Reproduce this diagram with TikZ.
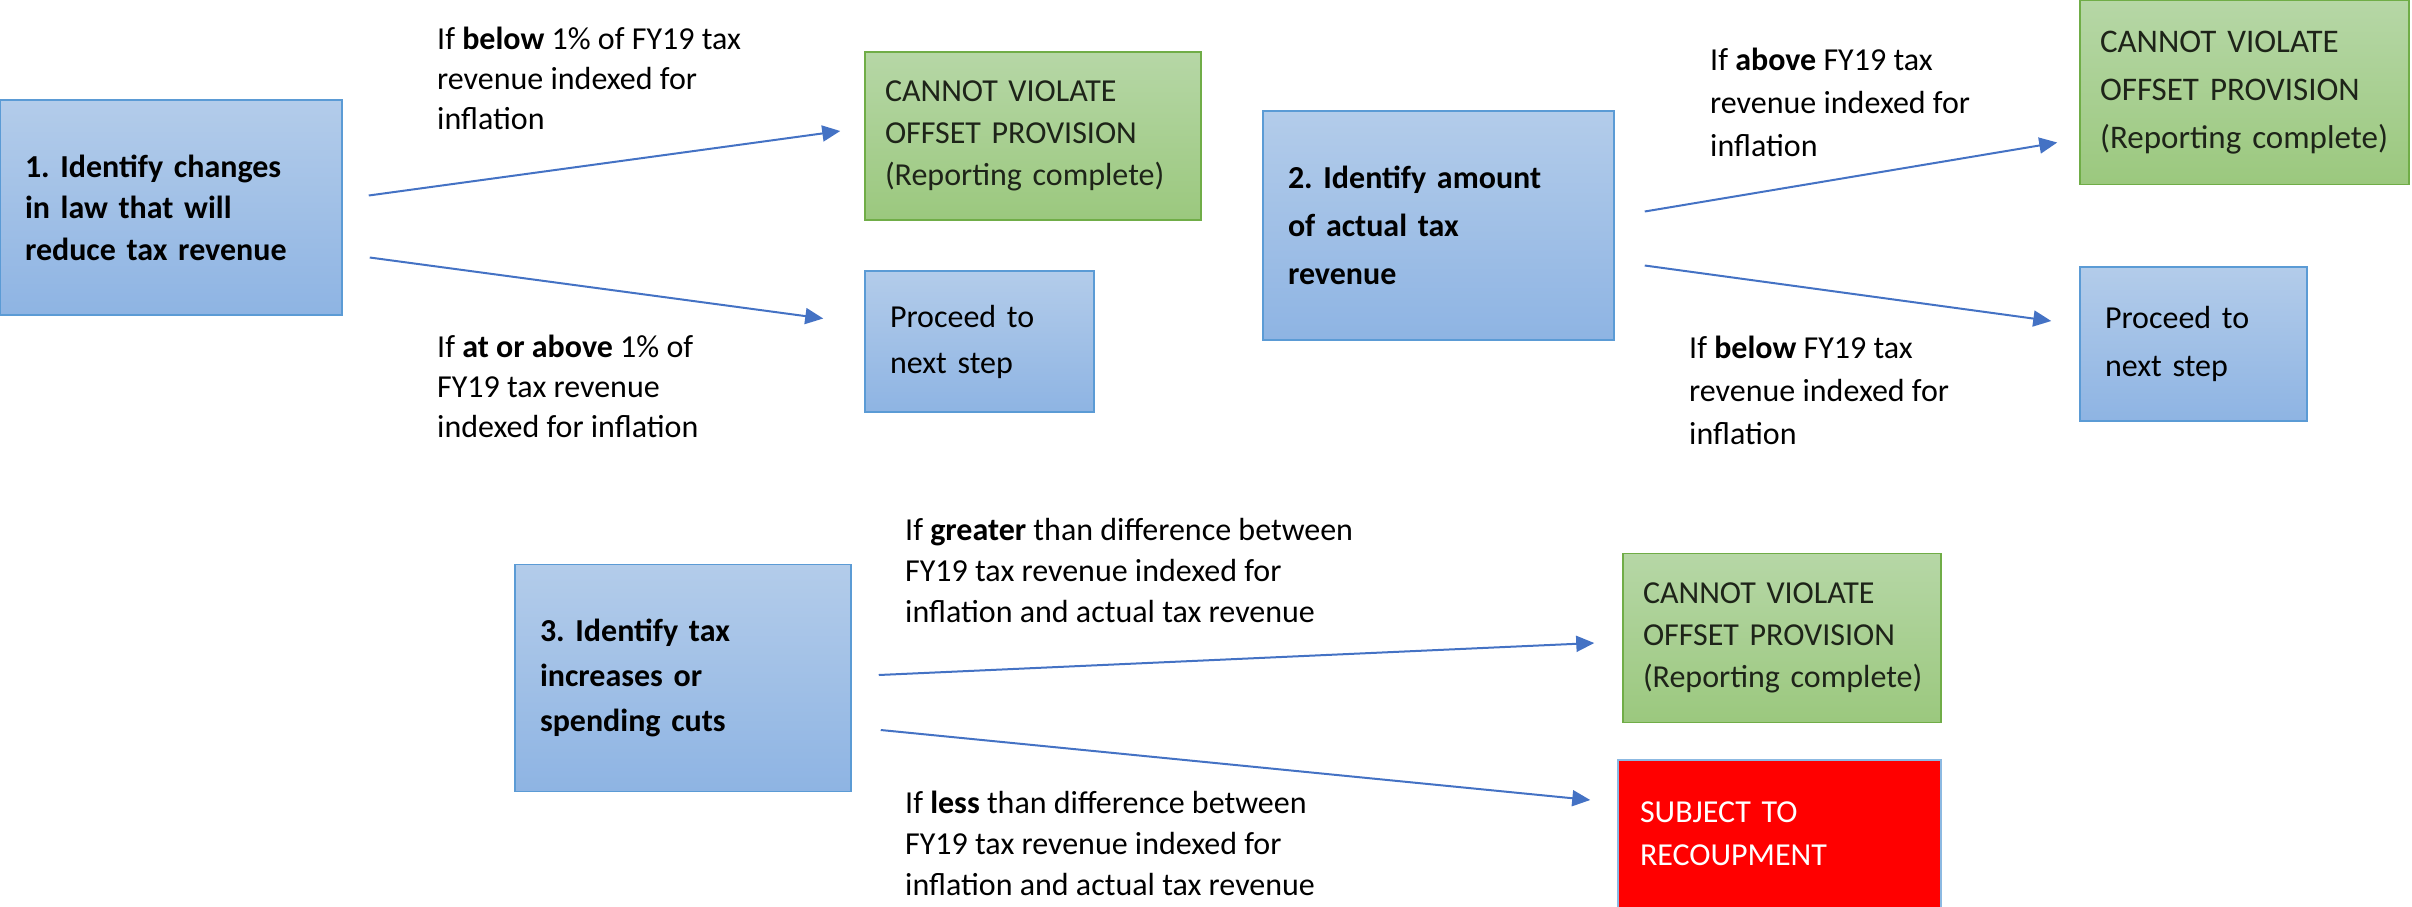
\documentclass[tikz,border=0pt]{standalone}
\usepackage{fontspec}
\setmainfont{Carlito}
\usetikzlibrary{arrows.meta}
\definecolor{bluetop}{HTML}{B3CCEA}
\definecolor{bluebot}{HTML}{8EB4E3}
\definecolor{blueedge}{HTML}{5B9BD5}
\definecolor{greentop}{HTML}{B6D7A6}
\definecolor{greenbot}{HTML}{9BC87E}
\definecolor{greenedge}{HTML}{70AD47}
\definecolor{flowarrow}{HTML}{4472C4}
\definecolor{darktext}{HTML}{1E2419}
\frenchspacing

\begin{document}
\begin{tikzpicture}[x=1pt, y=-1pt,
  every node/.style = {font=\fontsize{32}{42}\selectfont},
  pitch/.style      = {execute at begin node={\setlength{\baselineskip}{#1}}},
  stepbox/.style    = {draw=blueedge, line width=1.5pt, top color=bluetop,
    bottom color=bluebot, inner xsep=25pt, align=left,
    font=\fontsize{32}{42}\selectfont\bfseries},
  nextbox/.style    = {stepbox, font=\fontsize{32}{42}\selectfont},
  okbox/.style      = {draw=greenedge, line width=1.5pt, top color=greentop,
    bottom color=greenbot, inner xsep=20pt, align=left, text=darktext},
  redbox/.style     = {draw=blueedge!70, line width=1.5pt, fill=red,
    inner xsep=22pt, align=left, text=white},
  cond/.style       = {align=left, inner sep=0pt, anchor=west},
  flow/.style       = {draw=flowarrow, line width=2pt,
    -{Triangle[width=16pt,length=18pt]}},
  ]
  \useasboundingbox (0,0) rectangle (2412,906);

  % step 1
  \node[stepbox, pitch=41.5pt, minimum height=215pt, text width=292pt] (s1) at (171,207.5)
    {1. Identify changes\\in law that will\\reduce tax revenue};
  \node[okbox, pitch=42pt, minimum height=168pt, text width=296pt] (g1) at (1033,136)
    {CANNOT VIOLATE\\OFFSET PROVISION\\\mbox{(Reporting complete)}};
  \node[nextbox, pitch=46pt, minimum height=141pt, text width=179pt] (p1) at (979.5,341.5)
    {Proceed to\\next step};
  \node[cond, pitch=40pt] (c1a) at (437,78)
    {If \textbf{below} 1\% of FY19 tax\\revenue indexed for\\inflation};
  \node[cond, pitch=40pt] (c1b) at (437,386)
    {If \textbf{at or above} 1\% of\\FY19 tax revenue\\indexed for inflation};

  % step 2
  \node[stepbox, pitch=48pt, minimum height=229pt, text width=301pt] (s2) at (1438.5,225.5)
    {2. Identify amount\\of actual tax\\revenue};
  \node[okbox, pitch=48pt, minimum height=184pt, text width=289pt,
    font=\fontsize{33}{48}\selectfont] (g2) at (2244.5,92.5)
    {CANNOT VIOLATE\\OFFSET PROVISION\\\mbox{(Reporting complete)}};
  \node[nextbox, pitch=48pt, minimum height=154pt, text width=177pt] (p2) at (2193.5,344)
    {Proceed to\\next step};
  \node[cond, pitch=43pt] (c2a) at (1710,102)
    {If \textbf{above} FY19 tax\\revenue indexed for\\inflation};
  \node[cond, pitch=43pt] (c2b) at (1689,390)
    {If \textbf{below} FY19 tax\\revenue indexed for\\inflation};

  % step 3
  \node[stepbox, pitch=45pt, minimum height=227pt, text width=286pt] (s3) at (683,678)
    {3. Identify tax\\increases or\\spending cuts};
  \node[okbox, pitch=42pt, minimum height=169pt, text width=278pt] (g3) at (1782,638)
    {CANNOT VIOLATE\\OFFSET PROVISION\\\mbox{(Reporting complete)}};
  \node[redbox, pitch=43pt, minimum height=148pt, text width=279pt] (r3) at (1779.5,834)
    {SUBJECT TO\\RECOUPMENT};
  \node[cond, pitch=41pt] (c3a) at (905,570)
    {If \textbf{greater} than difference between\\FY19 tax revenue indexed for\\inflation and actual tax revenue};
  \node[cond, pitch=41pt] (c3b) at (905,843)
    {If \textbf{less} than difference between\\FY19 tax revenue indexed for\\inflation and actual tax revenue};

  % connectors
  \draw[flow] ([xshift=26pt,yshift=12pt]s1.east) -- ([xshift=-24pt,yshift=5pt]g1.west);
  \draw[flow] ([xshift=27pt,yshift=-50pt]s1.east) -- ([xshift=-41pt,yshift=23pt]p1.west);
  \draw[flow] ([xshift=30pt,yshift=14pt]s2.east) -- ([xshift=-22pt,yshift=-50pt]g2.west);
  \draw[flow] ([xshift=30pt,yshift=-40pt]s2.east) -- ([xshift=-28pt,yshift=23pt]p2.west);
  \draw[flow] ([xshift=27pt,yshift=3pt]s3.east) -- ([xshift=-28pt,yshift=-5pt]g3.west);
  \draw[flow] ([xshift=29pt,yshift=-52pt]s3.east) -- ([xshift=-27pt,yshift=34pt]r3.west);
\end{tikzpicture}
\end{document}
